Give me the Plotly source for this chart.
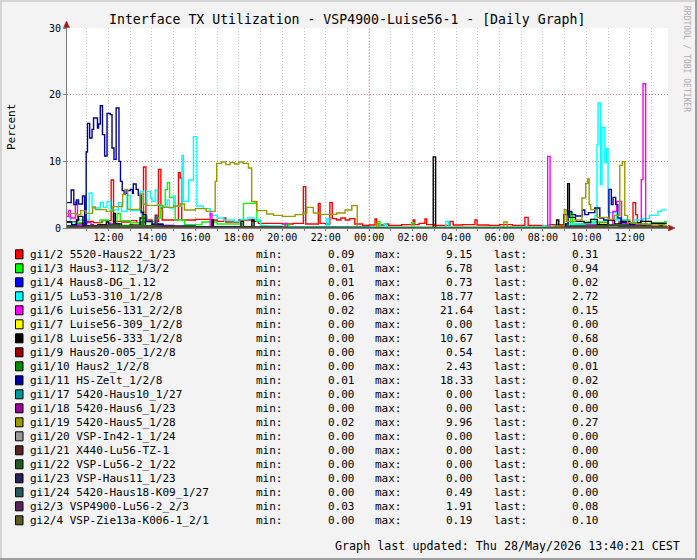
import plotly.graph_objects as go
from datetime import datetime, timedelta

# ---------------- data (hours since 27 May 2026 00:00, percent) ----------------
BASE_DAY = datetime(2026, 5, 27)
X_START_H = 10.087
X_END_H = 37.76

NAMES = [
    "gi1/2 5520-Haus22_1/23", "gi1/3 Haus3-112_1/3/2", "gi1/4 Haus8-DG_1.12",
    "gi1/5 Lu53-310_1/2/8", "gi1/6 Luise56-131_2/2/8", "gi1/7 Luise56-309_1/2/8",
    "gi1/8 Luise56-333_1/2/8", "gi1/9 Haus20-005_1/2/8", "gi1/10 Haus2_1/2/8",
    "gi1/11 HS-Zelt_1/2/8", "gi1/17 5420-Haus10_1/27", "gi1/18 5420-Haus6_1/23",
    "gi1/19 5420-Haus5_1/28", "gi1/20 VSP-In42-1_1/24", "gi1/21 X440-Lu56-TZ-1",
    "gi1/22 VSP-Lu56-2_1/22", "gi1/23 VSP-Haus11_1/23", "gi1/24 5420-Haus18-K09_1/27",
    "gi2/3 VSP4900-Lu56-2_2/3", "gi2/4 VSP-Zie13a-K006-1_2/1",
]
COLORS = [
    "#FF0000", "#00FF00", "#0000FF", "#00FFFF", "#FF00FF", "#FFFF00", "#000000",
    "#990000", "#008F00", "#000099", "#009999", "#990099", "#999900", "#999999",
    "#5A2424", "#245A24", "#24245A", "#245A5A", "#5A245A", "#5A5A24",
]
LEG_MIN = [0.09, 0.01, 0.01, 0.06, 0.02, 0.00, 0.00, 0.00, 0.00, 0.01,
           0.00, 0.00, 0.02, 0.00, 0.00, 0.00, 0.00, 0.00, 0.03, 0.00]
LEG_MAX = [9.15, 6.78, 0.73, 18.77, 21.64, 0.00, 10.67, 0.54, 2.43, 18.33,
           0.00, 0.00, 9.96, 0.00, 0.00, 0.00, 0.00, 0.49, 1.91, 0.19]
LEG_LAST = [0.31, 0.94, 0.02, 2.72, 0.15, 0.00, 0.68, 0.00, 0.01, 0.02,
            0.00, 0.00, 0.27, 0.00, 0.00, 0.00, 0.00, 0.00, 0.08, 0.10]

RED = [(10.09,0.9),(10.5,0.7),(11.0,1.0),(11.3,0.8),(11.7,1.1),(12.12,7.2),(12.23,1.0),(12.6,0.9),
       (13.0,1.1),(13.3,0.8),(13.61,9.15),(13.72,1.2),(14.0,1.0),(14.30,8.8),(14.41,3.0),(14.47,1.2),
       (15.0,1.2),(15.22,8.3),(15.30,7.5),(15.37,1.2),(16.0,1.3),(16.75,1.2),(17.0,1.0),(17.3,1.5),
       (17.4,0.9),(18.0,1.2),(18.6,1.0),(18.9,0.7),(20.0,0.6),(20.5,0.7),(20.97,6.2),(21.08,0.6),
       (21.66,3.7),(21.74,0.7),(22.0,0.6),(22.19,3.8),(22.30,1.4),(22.5,1.2),(22.7,1.5),(22.9,1.2),
       (23.1,1.4),(23.34,0.6),(23.7,0.4),(24.0,0.45),(24.27,1.35),(24.35,0.45),(24.7,0.6),(24.9,0.4),
       (25.5,0.5),(26.03,1.2),(26.1,0.5),(26.3,0.7),(26.57,1.35),(26.65,0.5),(27.0,0.4),(27.72,1.0),
       (27.87,0.45),(28.3,0.5),(28.87,1.2),(28.97,0.45),(29.5,0.4),(30.0,0.5),(30.6,0.4),(31.17,1.6),
       (31.32,0.4),(32.0,0.3),(32.3,0.5),(33.0,0.3),(33.5,0.6),(34.0,0.4),(34.6,0.8),(35.0,0.5),
       (35.5,0.9),(35.8,0.5),(36.15,3.8),(36.27,2.0),(36.35,0.6),(36.8,0.4),(37.3,0.3),(37.6,0.31),
       (37.70,0.31)]
GREEN = [(10.09,0.3),(10.60,0.8),(11.00,0.3),(11.60,1.2),(12.00,0.5),(12.39,2.2),(12.54,1.1),(13.00,0.8),
         (13.69,1.8),(13.78,0.9),(14.15,1.5),(14.38,3.2),(14.61,5.8),(14.71,6.78),(14.81,4.6),(15.00,3.8),
         (15.07,1.2),(15.50,0.5),(16.30,0.9),(17.00,0.6),(18.21,3.7),(18.75,3.9),(18.83,1.0),(19.00,0.3),
         (19.30,0.1),(20.10,0.5),(20.30,0.05),(24.40,1.0),(24.50,0.05),(25.95,0.8),(26.06,0.05),(32.00,0.2),
         (33.27,2.35),(33.37,0.6),(34.00,0.9),(35.00,0.5),(35.60,1.2),(36.00,0.6),(37.00,0.8),(37.60,0.94),
         (37.70,0.94)]
BLUE = [(10.09,0.3),(12.00,0.73),(12.10,0.3),(14.00,0.1),(24.00,0.02),(33.50,0.4),(35.50,0.2),(37.70,0.02)]
CYAN = [(10.09,1.75),(10.24,0.8),(10.60,1.2),(11.11,5.25),(11.24,3.0),(11.62,3.85),(11.76,3.1),(11.93,4.0),
        (12.08,2.7),(12.45,3.8),(12.60,2.5),(12.85,4.9),(13.00,2.6),(13.46,5.5),(13.60,3.5),(13.77,5.5),
        (13.92,4.5),(14.00,4.0),(14.15,5.7),(14.25,3.5),(14.38,3.2),(14.70,4.2),(14.80,3.0),(14.99,4.8),
        (15.07,3.3),(15.38,10.85),(15.45,4.0),(15.68,7.2),(15.91,13.7),(16.07,3.3),(16.36,2.9),(16.68,1.9),
        (17.00,1.5),(17.30,1.2),(17.80,1.0),(18.10,1.3),(18.40,1.5),(18.70,1.2),(19.00,0.3),(20.00,0.2),
        (22.05,1.4),(22.15,0.2),(24.40,0.5),(24.50,0.15),(24.70,0.6),(24.80,0.15),(27.53,1.0),(27.66,0.15),
        (30.00,0.2),(32.00,0.3),(33.00,0.6),(34.39,1.9),(34.49,12.5),(34.54,18.77),(34.65,6.5),(34.72,15.1),
        (34.85,9.8),(34.93,11.9),(35.00,2.3),(35.40,1.2),(35.90,0.8),(36.20,1.2),(36.60,1.4),(36.90,1.9),
        (37.30,2.5),(37.46,2.72),(37.70,2.72)]
MAGENTA = [(10.09,1.7),(10.15,2.65),(10.24,1.5),(10.47,3.9),(10.57,0.5),(10.90,0.8),(11.20,0.4),(12.00,0.6),
           (12.50,0.3),(13.00,0.5),(13.50,0.9),(13.70,0.3),(14.50,0.2),(16.68,2.2),(16.76,0.2),(18.00,0.1),
           (20.13,0.7),(20.23,0.05),(24.00,0.03),(32.22,10.75),(32.33,0.1),(33.00,0.3),(34.00,0.5),(35.22,2.5),
           (35.40,4.0),(35.62,0.6),(36.00,0.4),(36.53,7.25),(36.61,21.64),(36.73,0.4),(37.20,0.2),(37.50,0.15),
           (37.70,0.15)]
ZERO = [(10.09,0.0),(37.70,0.0)]
BLACK = [(10.09,0.9),(10.30,0.5),(10.52,1.2),(10.62,1.75),(10.82,0.3),(11.50,0.5),(11.90,0.9),(12.00,0.4),
         (12.23,2.2),(12.31,0.6),(12.60,0.3),(13.45,1.5),(13.70,0.3),(14.00,0.5),(14.50,0.2),(16.76,1.25),
         (16.83,0.2),(18.10,1.0),(18.21,0.2),(18.60,1.2),(18.70,0.1),(20.00,0.05),(26.95,10.67),(27.06,0.05),
         (32.63,1.2),(32.73,0.3),(32.96,2.0),(33.14,6.65),(33.22,1.6),(33.50,1.0),(33.90,0.8),(34.20,1.3),
         (34.50,0.5),(35.00,1.2),(35.30,0.6),(35.60,1.0),(36.00,0.8),(36.50,1.0),(37.00,0.7),(37.50,0.68),
         (37.70,0.68)]
DKRED = [(10.09,0.1),(13.00,0.54),(13.10,0.1),(20.00,0.0),(34.50,0.3),(35.00,0.0),(37.70,0.0)]
DKGREEN = [(10.09,0.2),(11.50,0.4),(13.55,2.43),(13.62,0.3),(14.50,0.1),(20.00,0.0),(33.00,0.3),
           (35.00,0.5),(36.00,0.2),(37.70,0.01)]
NAVY = [(10.09,3.8),(10.28,5.7),(10.40,3.5),(10.52,4.2),(10.62,3.6),(10.80,4.8),(10.90,0.4),(10.97,11.4),
        (11.03,15.7),(11.13,13.5),(11.24,14.8),(11.31,16.5),(11.49,15.0),(11.54,15.6),(11.62,18.33),(11.72,14.0),
        (11.82,10.8),(11.93,17.2),(12.08,17.0),(12.16,12.0),(12.25,10.3),(12.35,18.0),(12.48,10.0),(12.55,7.0),
        (12.63,5.6),(12.72,5.2),(12.85,5.6),(13.00,5.8),(13.10,5.2),(13.14,6.6),(13.27,5.8),(13.37,4.9),
        (13.50,2.3),(13.60,2.0),(13.72,1.0),(14.0,0.6),(14.5,0.4),(15.0,0.3),(16.0,0.2),(18.0,0.1),
        (24.0,0.05),(32.6,0.3),(33.05,0.6),(33.16,2.5),(33.32,2.0),(33.50,1.8),(33.82,2.7),(33.93,2.0),
        (34.10,2.3),(34.39,3.0),(34.62,1.5),(34.80,1.2),(35.04,5.8),(35.15,3.5),(35.23,4.6),(35.35,3.5),
        (35.45,1.5),(35.60,0.8),(36.0,0.5),(36.5,0.4),(37.0,0.3),(37.5,0.02),(37.70,0.02)]
OLIVE = [(10.09,2.2),(10.50,2.0),(10.72,2.6),(10.95,2.2),(11.27,3.15),(11.40,2.75),(11.90,2.5),(12.20,3.2),
         (12.65,5.0),(12.77,5.8),(12.88,2.8),(13.45,5.1),(13.60,3.6),(13.75,3.4),(14.50,3.1),(15.00,3.3),
         (15.30,3.6),(15.50,2.7),(16.00,2.9),(16.50,2.5),(16.91,7.0),(16.98,9.7),(17.20,9.9),(17.40,9.5),
         (17.60,9.8),(17.80,9.6),(18.00,9.9),(18.20,9.7),(18.44,9.0),(18.59,4.0),(18.82,2.6),(19.28,2.1),
         (19.60,1.9),(20.00,1.75),(20.59,2.0),(20.96,2.25),(21.13,3.1),(21.43,2.25),(21.74,2.05),(22.50,2.25),
         (22.89,2.7),(23.20,3.35),(23.45,0.05),(24.35,0.7),(24.45,0.1),(30.20,0.9),(30.35,0.1),(32.50,0.3),
         (32.98,2.75),(33.07,1.0),(33.50,1.2),(33.80,4.5),(33.97,6.7),(34.06,7.35),(34.13,3.5),(34.20,2.75),
         (34.50,1.6),(35.00,1.3),(35.30,1.9),(35.54,9.4),(35.66,9.96),(35.77,1.9),(35.90,0.8),(36.30,0.6),
         (36.80,0.4),(37.30,0.5),(37.60,0.27),(37.70,0.27)]
TEAL2 = [(10.09,0.1),(11.20,0.49),(11.30,0.1),(16.00,0.0),(37.70,0.0)]
PURPLE2 = [(10.09,0.2),(11.00,0.3),(12.00,0.5),(12.50,0.2),(14.15,1.91),(14.23,0.3),(15.00,0.2),(16.00,0.1),
           (20.00,0.05),(30.00,0.05),(33.00,0.2),(35.00,0.4),(36.00,0.3),(37.00,0.1),(37.70,0.08)]
DKOLIVE = [(10.09,0.1),(12.00,0.19),(14.00,0.1),(24.00,0.05),(34.00,0.15),(37.70,0.10)]

SERIES = [RED, GREEN, BLUE, CYAN, MAGENTA, ZERO, BLACK, DKRED, DKGREEN, NAVY,
          ZERO, ZERO, OLIVE, ZERO, ZERO, ZERO, ZERO, TEAL2, PURPLE2, DKOLIVE]

TITLE = "Interface TX Utilization - VSP4900-Luise56-1 - [Daily Graph]"
FOOTER = "Graph last updated: Thu 28/May/2026 13:40:21 CEST"
Y_TICKS = [0, 10, 20, 30]

# ---------------- layout geometry ----------------
W, H = 697, 560
ML, MR, MT, MB = 67, 29, 28, 332
PW = W - ML - MR
PH = H - MT - MB
MONO = "DejaVu Sans Mono"


def px(x):
    return (x - ML) / PW


def py(y):
    return (H - MB - y) / PH


def to_dt(h):
    return BASE_DAY + timedelta(hours=h)


fig = go.Figure()
for name, color, pts in zip(NAMES, COLORS, SERIES):
    fig.add_trace(go.Scatter(
        x=[to_dt(t) for t, _ in pts], y=[v for _, v in pts], mode="lines",
        line=dict(color=color, width=1.4, shape="hv"), name=name,
        showlegend=False, hoverinfo="skip"))

ann = []
ann.append(dict(text=TITLE, x=px(347), y=py(19), xanchor="center", yanchor="middle",
                font=dict(family=MONO, size=13.2, color="#000000")))
ann.append(dict(text="Percent", x=px(11), y=py(127), textangle=-90, xanchor="center",
                yanchor="middle", font=dict(family=MONO, size=11, color="#000000")))
ann.append(dict(text="RRDTOOL / TOBI OETIKER", x=px(687), y=py(59), textangle=90,
                xanchor="center", yanchor="middle", font=dict(family=MONO, size=8, color="#ABABAB")))
ann.append(dict(text=FOOTER, x=px(681), y=py(546), xanchor="right", yanchor="middle",
                font=dict(family=MONO, size=11.7, color="#000000")))

shapes = []
lf = dict(family=MONO, size=11, color="#000000")
DX = -1.5
for i, (name, color) in enumerate(zip(NAMES, COLORS)):
    ry = 254.3 + 14 * i
    shapes.append(dict(type="rect", xref="paper", yref="paper",
                       x0=px(15.5), x1=px(23), y0=py(ry - 4.5), y1=py(ry + 4.5),
                       fillcolor=color, line=dict(color="#000000", width=1)))
    ann.append(dict(text=name, x=px(30 + DX), y=py(ry), xanchor="left", yanchor="middle", font=lf))
    ann.append(dict(text="min:", x=px(256 + DX), y=py(ry), xanchor="left", yanchor="middle", font=lf))
    ann.append(dict(text="%.2f" % LEG_MIN[i], x=px(354 - DX), y=py(ry), xanchor="right", yanchor="middle", font=lf))
    ann.append(dict(text="max:", x=px(375 + DX), y=py(ry), xanchor="left", yanchor="middle", font=lf))
    ann.append(dict(text="%.2f" % LEG_MAX[i], x=px(472 - DX), y=py(ry), xanchor="right", yanchor="middle", font=lf))
    ann.append(dict(text="last:", x=px(494 + DX), y=py(ry), xanchor="left", yanchor="middle", font=lf))
    ann.append(dict(text="%.2f" % LEG_LAST[i], x=px(598 - DX), y=py(ry), xanchor="right", yanchor="middle", font=lf))

for a in ann:
    a.update(xref="paper", yref="paper", showarrow=False, borderpad=0)

# midnight major grid line
shapes.append(dict(type="line", xref="x", yref="paper", x0=to_dt(24), x1=to_dt(24), y0=0, y1=1,
                   line=dict(color="#E08A8A", width=1, dash="1px,2px"), layer="between"))
# axis arrows
ARROW = "#9C1C1C"
shapes.append(dict(type="line", xref="paper", yref="paper", x0=px(66.5), x1=px(66.5), y0=1, y1=py(24),
                   line=dict(color="#808080", width=1)))
shapes.append(dict(type="path", xref="paper", yref="paper",
                   path="M %f,%f L %f,%f L %f,%f Z" % (px(66.5), py(21), px(63.5), py(27.5), px(69.5), py(27.5)),
                   fillcolor=ARROW, line=dict(color=ARROW, width=0.5)))
shapes.append(dict(type="line", xref="paper", yref="paper", x0=1, x1=px(671), y0=py(228), y1=py(228),
                   line=dict(color="#808080", width=1)))
shapes.append(dict(type="path", xref="paper", yref="paper",
                   path="M %f,%f L %f,%f L %f,%f Z" % (px(675), py(228), px(668.5), py(225), px(668.5), py(231)),
                   fillcolor=ARROW, line=dict(color=ARROW, width=0.5)))
# outer frame
shapes.append(dict(type="line", xref="paper", yref="paper", x0=px(1), x1=px(1), y0=py(0), y1=py(560),
                   line=dict(color="#D4D4D4", width=2)))
shapes.append(dict(type="line", xref="paper", yref="paper", x0=px(0), x1=px(697), y0=py(1), y1=py(1),
                   line=dict(color="#D4D4D4", width=2)))
shapes.append(dict(type="line", xref="paper", yref="paper", x0=px(696), x1=px(696), y0=py(0), y1=py(560),
                   line=dict(color="#9E9E9E", width=2)))
shapes.append(dict(type="line", xref="paper", yref="paper", x0=px(0), x1=px(697), y0=py(559), y1=py(559),
                   line=dict(color="#9E9E9E", width=2)))

fig.update_layout(
    width=W, height=H, autosize=False,
    margin=dict(l=ML, r=MR, t=MT, b=MB, pad=0),
    paper_bgcolor="#F3F3F3", plot_bgcolor="#FFFFFF",
    showlegend=False,
    annotations=ann, shapes=shapes,
    xaxis=dict(
        type="date", range=[to_dt(X_START_H), to_dt(X_END_H)],
        tick0=to_dt(0), dtick=7200000, tickformat="%H:%M",
        showgrid=True, gridcolor="#C8C8C8", griddash="1px,2px", gridwidth=1,
        ticks="outside", ticklen=2, tickcolor="#808080",
        tickfont=dict(family=MONO, size=10, color="#000000"),
        ticklabelstandoff=-2,
        showline=True, linecolor="#808080", linewidth=1, zeroline=False,
        minor=dict(dtick=3600000, tick0=to_dt(0), showgrid=True, gridcolor="#C8C8C8",
                   griddash="1px,2px", ticks="outside", ticklen=2, tickcolor="#808080"),
        fixedrange=True,
    ),
    yaxis=dict(
        range=[0, 30], tickvals=Y_TICKS, ticktext=[str(v) for v in Y_TICKS],
        showgrid=True, gridcolor="#E08A8A", griddash="1px,2px", gridwidth=1,
        ticks="outside", ticklen=3, tickcolor="#808080",
        tickfont=dict(family=MONO, size=10, color="#000000"),
        showline=True, linecolor="#808080", linewidth=1, zeroline=False,
        fixedrange=True,
    ),
)

fig.write_html("out.html", config={"displayModeBar": False})
